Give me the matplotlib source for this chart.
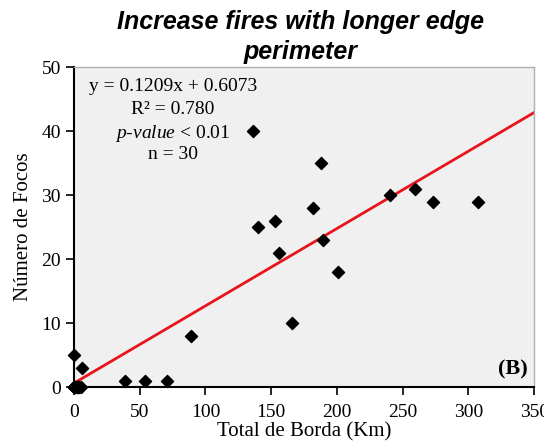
import numpy as np
import matplotlib.pyplot as plt

# data (Total de Borda vs Numero de Focos)
borda = [136, 188, 140, 153, 156, 182, 189, 201, 166, 240, 259, 273, 307,
         89, 39, 54, 71, 0, 6,
         0, 0, 0, 1, 2, 3, 4, 5, 0, 1, 2]
focos = [40, 35, 25, 26, 21, 28, 23, 18, 10, 30, 31, 29, 29,
         8, 1, 1, 1, 5, 3,
         0, 0, 0, 0, 0, 0, 0, 0, 0, 0, 0]
slope = 0.1209
intercept = 0.6073
x_ticks = [0, 50, 100, 150, 200, 250, 300, 350]
y_ticks = [0, 10, 20, 30, 40, 50]

serif = ['Liberation Serif', 'DejaVu Serif']
sans = ['Liberation Sans', 'DejaVu Sans']
plt.rcParams['mathtext.fontset'] = 'custom'
plt.rcParams['mathtext.rm'] = 'Liberation Serif'
plt.rcParams['mathtext.it'] = 'Liberation Serif:italic'

fig = plt.figure(figsize=(5.44, 4.48), dpi=100)
ax = fig.add_axes([0.136, 0.136, 0.846, 0.714])
ax.set_facecolor('#f0f0f0')

ax.scatter(borda, focos, marker='D', s=38, color='black', zorder=3,
           clip_on=False)
xl = np.array([0, 350])
ax.plot(xl, slope * xl + intercept, color='#e8141c', lw=2, zorder=2)

ax.set_xlim(0, 350)
ax.set_ylim(0, 50)
ax.set_xticks(x_ticks)
ax.set_yticks(y_ticks)
ax.tick_params(direction='out', length=6, width=1.2, labelsize=14,
               colors='black')
ax.tick_params(axis='x', pad=6)
for lab in ax.get_xticklabels() + ax.get_yticklabels():
    lab.set_family(serif)
for s in ['left', 'bottom']:
    ax.spines[s].set_linewidth(1.5)
for s in ['top', 'right']:
    ax.spines[s].set_color('#b0b0b0')
    ax.spines[s].set_linewidth(1.0)

ax.set_xlabel('Total de Borda (Km)', family=serif, fontsize=15, labelpad=1)
ax.set_ylabel('Número de Focos', family=serif, fontsize=15, labelpad=6)

fig.text(0.553, 0.978, 'Increase fires with longer edge\nperimeter',
         ha='center', va='top', family=sans, fontsize=18, fontweight='bold',
         style='italic', linespacing=1.3)

tx = 0.215
ax.text(tx, 0.965, 'y = 0.1209x + 0.6073', transform=ax.transAxes,
        ha='center', va='top', family=serif, fontsize=14)
ax.text(tx, 0.895, 'R² = 0.780', transform=ax.transAxes,
        ha='center', va='top', family=serif, fontsize=14)
ax.text(tx, 0.825, r'$\mathit{p\text{-}value}$ < 0.01', transform=ax.transAxes,
        ha='center', va='top', family=serif, fontsize=14)
ax.text(tx, 0.755, 'n = 30', transform=ax.transAxes,
        ha='center', va='top', family=serif, fontsize=14)
ax.text(0.985, 0.025, '(B)', transform=ax.transAxes, ha='right',
        va='bottom', family=serif, fontsize=16, fontweight='bold')

fig.savefig('out.png', dpi=100)
